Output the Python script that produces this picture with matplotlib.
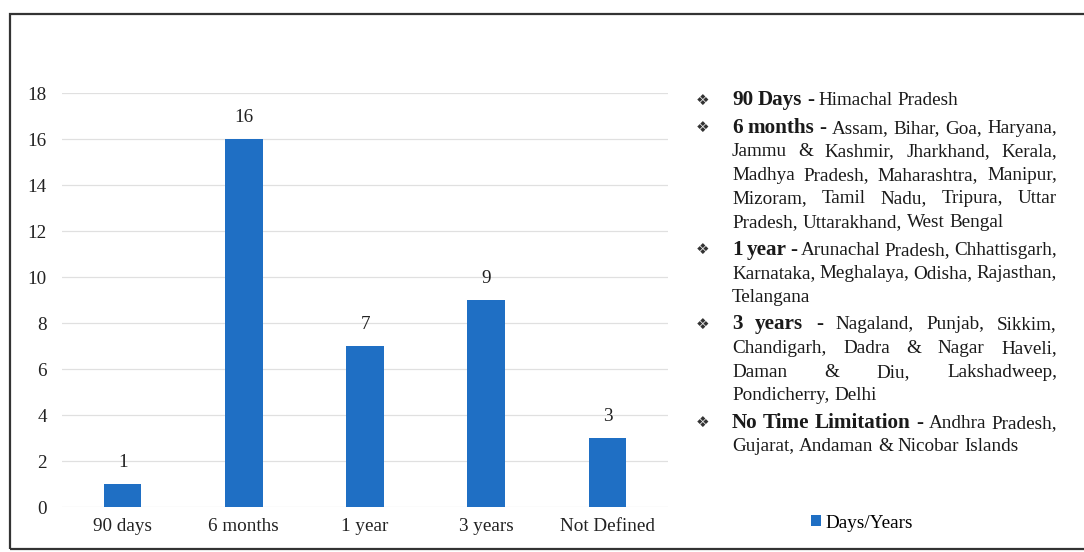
import matplotlib.pyplot as plt
from matplotlib.patches import Rectangle

# Limitation period for filing, number of states / UTs in each group
periods = ["90 days", "6 months", "1 year", "3 years", "Not Defined"]
counts = [1, 16, 7, 9, 3]
yticks = [0, 2, 4, 6, 8, 10, 12, 14, 16, 18]

# Side notes: (bold heading, lines of text); first line starts after heading
notes = [
    ("90 Days -", ["Himachal Pradesh"]),
    ("6 months -", ["Assam, Bihar, Goa, Haryana,",
                    "Jammu & Kashmir, Jharkhand, Kerala,",
                    "Madhya Pradesh, Maharashtra, Manipur,",
                    "Mizoram, Tamil Nadu, Tripura, Uttar",
                    "Pradesh, Uttarakhand, West Bengal"]),
    ("1 year -", ["Arunachal Pradesh, Chhattisgarh,",
                  "Karnataka, Meghalaya, Odisha, Rajasthan,",
                  "Telangana"]),
    ("3 years -", ["Nagaland, Punjab, Sikkim,",
                   "Chandigarh, Dadra & Nagar Haveli,",
                   "Daman & Diu, Lakshadweep,",
                   "Pondicherry, Delhi"]),
    ("No Time Limitation -", ["Andhra Pradesh,",
                              "Gujarat, Andaman & Nicobar Islands"]),
]

plt.rcParams['font.family'] = 'Liberation Serif'
W, H = 1084, 552
fig = plt.figure(figsize=(W / 100, H / 100), dpi=100)
fig.patch.set_facecolor('white')

# outer frame
fig.patches.append(Rectangle((10 / W, 1 - 549 / H), 1.2, (549 - 14) / H,
                             transform=fig.transFigure, fill=False,
                             edgecolor='#333333', linewidth=1.6))

ax = fig.add_axes([62 / W, 1 - 507 / H, 606 / W, 414 / H])
bars = ax.bar(range(len(periods)), counts, width=0.31, color='#1f6fc4',
              label='Days/Years', zorder=3)
for b, v in zip(bars, counts):
    ax.text(b.get_x() + b.get_width() / 2, v + 0.55, str(v),
            ha='center', va='bottom', fontsize=13.8, color='#222222')
ax.set_xlim(-0.5, len(periods) - 0.5)
ax.set_ylim(0, 18)
ax.set_yticks(yticks)
ax.set_xticks(range(len(periods)))
ax.set_xticklabels(periods)
ax.tick_params(length=0, labelsize=13.8, colors='#222222')
ax.tick_params(axis='y', pad=11)
ax.tick_params(axis='x', pad=8)
ax.grid(axis='y', color='#e0e0e0', linewidth=0.9, zorder=0)
for s in ax.spines.values():
    s.set_visible(False)

fig.legend(handles=[bars], labels=['Days/Years'], loc='center',
           bbox_to_anchor=(862 / W, 1 - 523 / H), frameon=False,
           fontsize=13.8, handlelength=0.55, handleheight=0.55,
           handletextpad=0.25)

# justified notes block on the right
renderer = fig.canvas.get_renderer()
x_left, x_right = 732, 1057
fs, fs_bold = 13.8, 15.2


def word_width(word, bold):
    t = fig.text(0, 0, word, fontsize=fs_bold if bold else fs,
                 fontweight='bold' if bold else 'normal')
    w = t.get_window_extent(renderer).width
    t.remove()
    return w


space = word_width("a b", False) - word_width("ab", False)
y = 100
for heading, lines in notes:
    fig.text(703 / W, 1 - y / H, "\u2756", fontsize=11, family='DejaVu Sans',
             ha='center', va='center', color='#333333')
    for i, line in enumerate(lines):
        words = [(w, False) for w in line.split()]
        if i == 0:
            words = [(w, True) for w in heading.split()] + words
        widths = [word_width(w, b) for w, b in words]
        last = i == len(lines) - 1
        if last or len(words) < 2:
            gap = space
        else:
            gap = (x_right - x_left - sum(widths)) / (len(words) - 1)
        x = x_left
        for (w, b), wd in zip(words, widths):
            fig.text(x / W, 1 - (y + 5) / H, w, fontsize=fs_bold if b else fs,
                     fontweight='bold' if b else 'normal',
                     va='baseline', ha='left', color='#1a1a1a')
            x += wd + gap
        y += 23.6
    y += 4

fig.savefig('out.png', dpi=100)
